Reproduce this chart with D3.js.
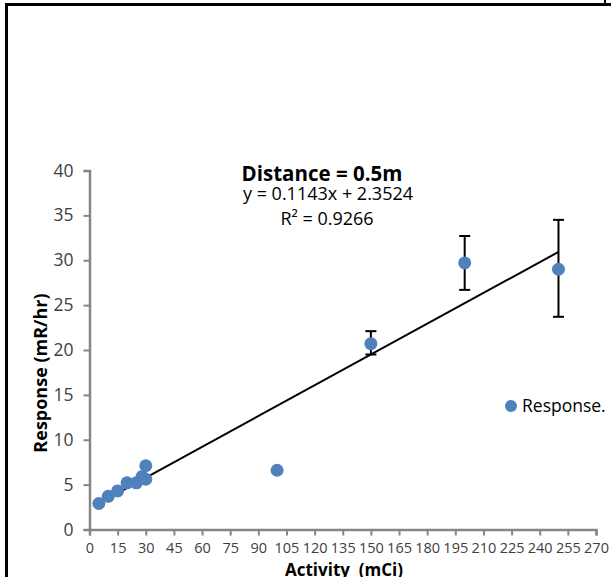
<!DOCTYPE html>
<html><head><meta charset="utf-8">
<script src="https://cdn.jsdelivr.net/npm/d3@7"></script>
<style>body{margin:0;background:#fff;}svg{display:block;}</style>
</head><body>
<svg id="c" width="611" height="577"></svg>
<script>
const activity = [5, 10, 15, 20, 25, 28, 30, 30, 100, 150, 200, 250];
const response = [2.9, 3.7, 4.3, 5.2, 5.2, 5.9, 5.6, 7.1, 6.6, 20.7, 29.7, 29.0];
const errLow  = [null, null, null, null, null, null, null, null, null, 19.5, 26.7, 23.7];
const errHigh = [null, null, null, null, null, null, null, null, null, 22.1, 32.7, 34.5];
const xTicks = d3.range(0, 271, 15);
const yTicks = [0, 5, 10, 15, 20, 25, 30, 35, 40];
const slope = 0.1143, intercept = 2.3524;
const trendRange = [5, 250];

const svg = d3.select("#c");
const font = "'Open Sans', Lato, sans-serif";
const x = d3.scaleLinear().domain([0, 270]).range([89.5, 596]);
const y = d3.scaleLinear().domain([0, 40]).range([529.5, 170.5]);

// outer frame
svg.append("line").attr("x1",6.5).attr("x2",6.5).attr("y1",3).attr("y2",577).attr("stroke","#000").attr("stroke-width",3);
svg.append("line").attr("x1",5).attr("x2",611).attr("y1",4.5).attr("y2",4.5).attr("stroke","#000").attr("stroke-width",3);
svg.append("line").attr("x1",605).attr("x2",605).attr("y1",0).attr("y2",5).attr("stroke","#000").attr("stroke-width",2);

// axes
const gx = svg.append("g").attr("transform",`translate(0,${y(0)})`)
  .call(d3.axisBottom(x).tickValues(xTicks).tickSize(6).tickSizeOuter(6).tickPadding(7));
const gy = svg.append("g").attr("transform",`translate(${x(0)},0)`)
  .call(d3.axisLeft(y).tickValues(yTicks).tickSize(6).tickSizeOuter(6).tickPadding(10));
[gx, gy].forEach(g => {
  g.select(".domain").attr("stroke","#868686").attr("stroke-width",2.5);
  g.selectAll(".tick line").attr("stroke","#868686").attr("stroke-width",2);
  g.selectAll(".tick text").attr("fill","#404040").style("font-family",font);
});
gx.selectAll(".tick text").style("font-size","14.5px");
gy.selectAll(".tick text").style("font-size","17.5px");

// trendline
svg.append("line")
  .attr("x1", x(trendRange[0])).attr("y1", y(slope*trendRange[0]+intercept))
  .attr("x2", x(trendRange[1])).attr("y2", y(slope*trendRange[1]+intercept))
  .attr("stroke","#000").attr("stroke-width",2);

// error bars
const eb = activity.map((a,i)=>({a, lo: errLow[i], hi: errHigh[i]})).filter(d=>d.lo!==null);
const ge = svg.append("g").attr("stroke","#000").attr("stroke-width",2);
eb.forEach(d=>{
  ge.append("line").attr("x1",x(d.a)).attr("x2",x(d.a)).attr("y1",y(d.lo)).attr("y2",y(d.hi));
  [d.lo,d.hi].forEach(v=>ge.append("line").attr("x1",x(d.a)-5.5).attr("x2",x(d.a)+5.5).attr("y1",y(v)).attr("y2",y(v)));
});

// points
svg.append("g").selectAll("circle").data(activity.map((a,i)=>[a,response[i]])).join("circle")
  .attr("cx",d=>x(d[0])).attr("cy",d=>y(d[1])).attr("r",6.5).attr("fill","#4f81bd");

// title & equation
svg.append("text").attr("x",322).attr("y",181).attr("text-anchor","middle")
  .style("font-family",font).style("font-weight","bold").style("font-size","20.5px").attr("fill","#000").text("Distance = 0.5m");
svg.append("text").attr("x",328).attr("y",200).attr("text-anchor","middle")
  .style("font-family",font).style("font-size","18px").attr("fill","#000").text("y = 0.1143x + 2.3524");
svg.append("text").attr("x",327).attr("y",225).attr("text-anchor","middle")
  .style("font-family",font).style("font-size","18px").attr("fill","#000").text("R² = 0.9266");

// axis titles
svg.append("text").attr("transform","translate(47,373) rotate(-90)").attr("text-anchor","middle")
  .style("font-family",font).style("font-weight","bold").style("font-size","18px").attr("fill","#000").text("Response (mR/hr)");
svg.append("text").attr("x",344).attr("y",576).attr("text-anchor","middle")
  .style("font-family",font).style("font-weight","bold").style("font-size","17px").attr("fill","#000")
  .attr("xml:space","preserve").text("Activity  (mCi)");

// legend
svg.append("circle").attr("cx",511).attr("cy",406).attr("r",6).attr("fill","#4f81bd");
svg.append("text").attr("x",522).attr("y",412).style("font-family",font).style("font-size","17.5px").attr("fill","#000").text("Response.");
</script>
</body></html>
